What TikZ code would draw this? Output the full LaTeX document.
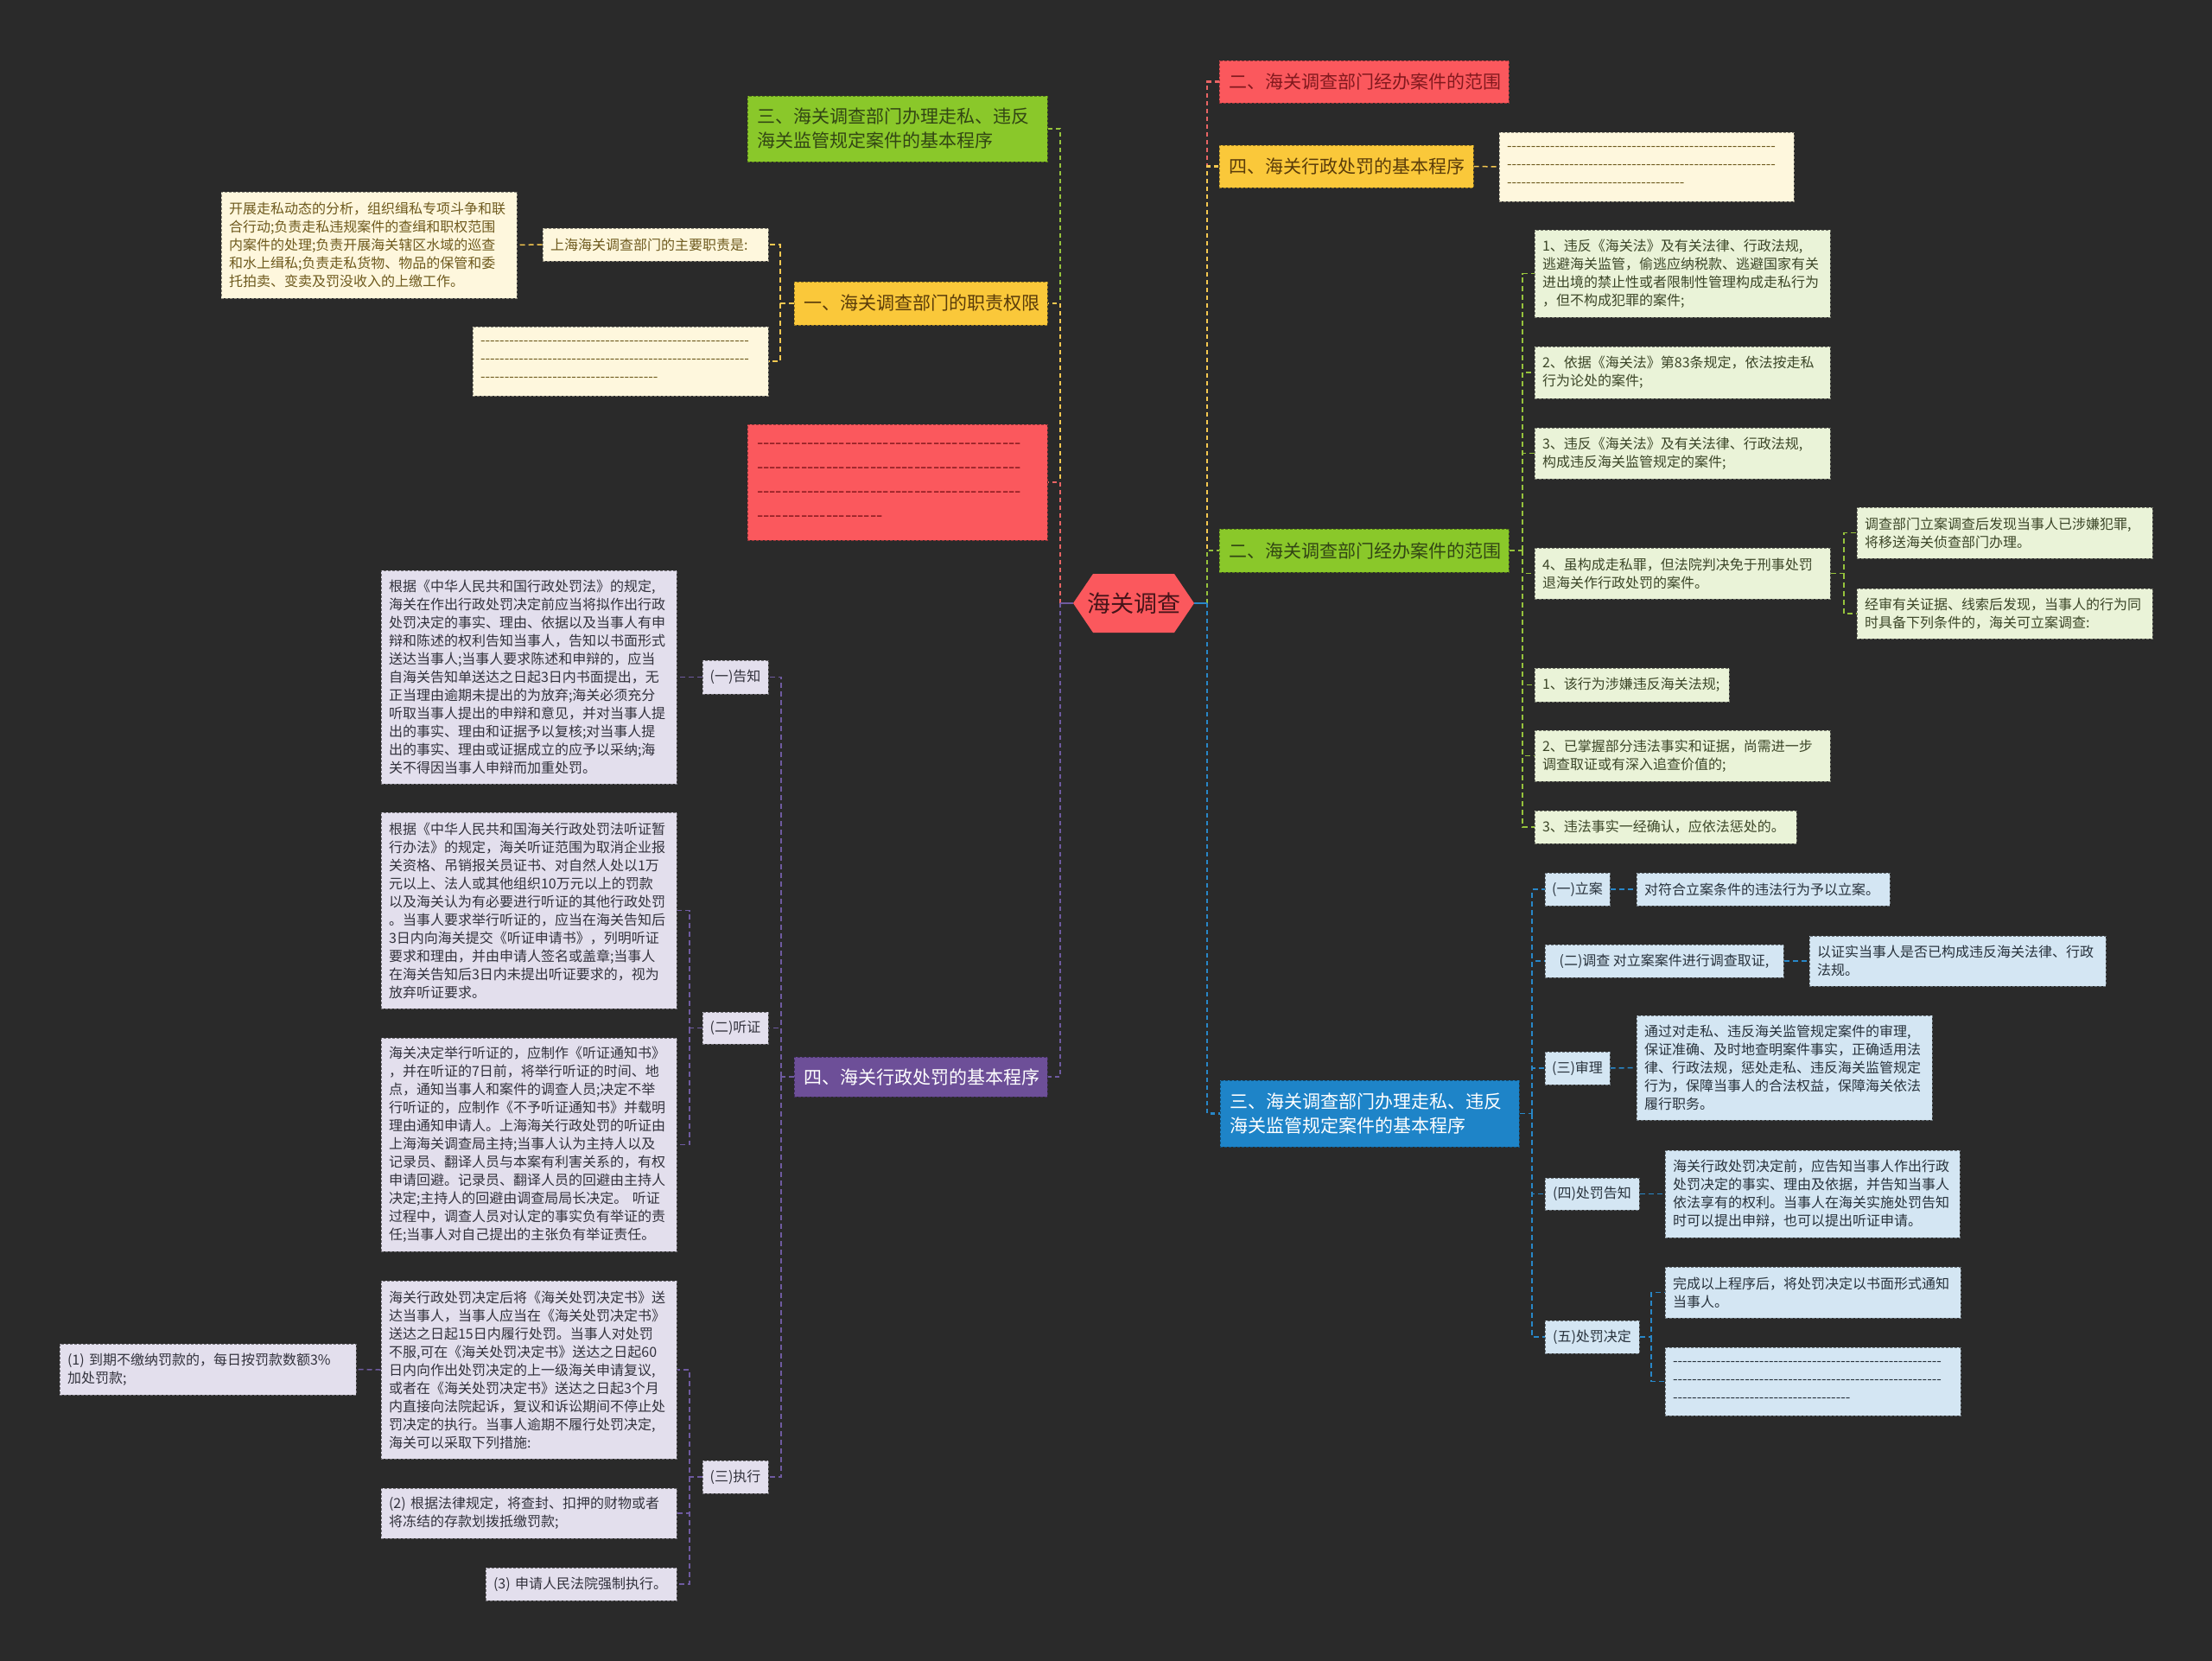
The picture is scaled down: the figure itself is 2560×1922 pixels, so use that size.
\documentclass[tikz,border=0pt]{standalone}
\usepackage{fontspec}
\setmainfont{Noto Sans CJK SC}
\usetikzlibrary{calc}
\definecolor{bg}{RGB}{42,42,42}
% main fills
\definecolor{hexF}{RGB}{251,88,93}
\definecolor{hexT}{RGB}{70,20,25}
\definecolor{gF}{RGB}{138,200,42}
\definecolor{gT}{RGB}{50,70,20}
\definecolor{yF}{RGB}{250,200,58}
\definecolor{yT}{RGB}{90,60,10}
\definecolor{rF}{RGB}{251,88,93}
\definecolor{rT}{RGB}{130,25,30}
\definecolor{pF}{RGB}{109,79,152}
\definecolor{bF}{RGB}{30,132,200}
% light fills
\definecolor{crF}{RGB}{254,247,221}
\definecolor{crT}{RGB}{110,90,30}
\definecolor{lgF}{RGB}{234,243,216}
\definecolor{lgT}{RGB}{60,70,40}
\definecolor{lvF}{RGB}{227,223,237}
\definecolor{lvT}{RGB}{50,50,60}
\definecolor{lbF}{RGB}{212,230,243}
\definecolor{lbT}{RGB}{40,50,60}
% connector colours
\definecolor{cRc}{RGB}{232,100,100}
\definecolor{cYc}{RGB}{245,200,80}
\definecolor{cGc}{RGB}{150,195,60}
\definecolor{cPc}{RGB}{110,90,160}
\definecolor{cBc}{RGB}{40,135,200}

\newcount\myhyc
\newcommand\hy[1]{\mbox{\myhyc=0 \loop\ifnum\myhyc<#1 -{}\advance\myhyc by 1 \repeat}}

\tikzset{
  bxbase/.style={rectangle, dashed, dash pattern=on 3pt off 2pt, line width=1pt, inner ysep=0pt, align=left},
  sz/.style 2 args={minimum width=#1pt, minimum height=#2pt, text width=#1pt-18pt, inner xsep=9pt},
  msz/.style 2 args={minimum width=#1pt, minimum height=#2pt, text width=#1pt-22pt, inner xsep=11pt},
  lsz/.style 2 args={minimum width=#1pt, minimum height=#2pt, inner xsep=4pt, align=center},
  small/.style={bxbase, font=\fontsize{16}{21}\selectfont},
  big/.style={bxbase, font=\fontsize{21}{28}\selectfont},
  cream/.style={small, fill=crF, draw=crF!55!black, text=crT},
  lgreen/.style={small, fill=lgF, draw=lgF!50!black, text=lgT},
  lav/.style={small, fill=lvF, draw=lvF!50!black, text=lvT},
  lblue/.style={small, fill=lbF, draw=lbF!50!black, text=lbT},
  mG/.style={big, fill=gF, draw=gF!60!black, text=gT},
  mY/.style={big, fill=yF, draw=yF!60!black, text=yT},
  mR/.style={big, fill=rF, draw=rF!60!black, text=rT},
  mP/.style={big, fill=pF, draw=pF!60!black, text=white},
  mB/.style={big, fill=bF, draw=bF!60!black, text=white},
  cn/.style={dashed, dash pattern=on 5pt off 4pt, line width=2.2pt},
  sn/.style={dashed, dash pattern=on 6pt off 4pt, line width=1.5pt},
  cR/.style={cn, draw=cRc}, cY/.style={cn, draw=cYc}, cG/.style={cn, draw=cGc},
  cP/.style={cn, draw=cPc}, cB/.style={cn, draw=cBc},
  sY/.style={sn, draw=cYc}, sG/.style={sn, draw=cGc},
  sP/.style={sn, draw=cPc}, sB/.style={sn, draw=cBc},
}

\begin{document}
\begin{tikzpicture}[x=1pt, y=-1pt]
\fill[bg] (0,0) rectangle (2560,1922);
\useasboundingbox (0,0) rectangle (2560,1922);

% ---------- centre ----------
\fill[hexF] (1242,698) -- (1265,664) -- (1359,664) -- (1382,698) -- (1359,732) -- (1265,732) -- cycle;
\node[font=\fontsize{27}{32}\selectfont, text=hexT, minimum width=140pt, minimum height=68pt, inner sep=0pt] (c) at (1312,698) {海关调查};
\coordinate (TL) at (1227,698);
\coordinate (TR) at (1397,698);

% ---------- left level 1 ----------
\node[mG, msz={347}{76}] (l1) at (1038.5,149) {三、海关调查部门办理走私、违反\\海关监管规定案件的基本程序};
\node[mY, msz={293}{50}] (l2) at (1065.5,351) {一、海关调查部门的职责权限};
\node[mR, msz={347}{134}] (l3) at (1038.5,558) {\hy{42}\\\hy{42}\\\hy{42}\\\hy{20}};
\node[mP, msz={293}{46}] (l4) at (1065.5,1246) {四、海关行政处罚的基本程序};

% ---------- right level 1 ----------
\node[mR, msz={335}{49}] (r1) at (1578.5,94.5) {二、海关调查部门经办案件的范围};
\node[mY, msz={294}{49}] (r2) at (1558,192.5) {四、海关行政处罚的基本程序};
\node[mG, msz={335}{50}] (r3) at (1578.5,637) {二、海关调查部门经办案件的范围};
\node[mB, msz={346}{77}] (r4) at (1585,1288.5) {三、海关调查部门办理走私、违反\\海关监管规定案件的基本程序};

% ---------- level 1 connectors ----------
\draw[cG] (TL) |- (l1.east);
\draw[cY] (TL) |- (l2.east);
\draw[cR] (TL) |- (l3.east);
\draw[cP] (TL) |- (l4.east);
\draw[cP, solid] (c.west) -- (TL);
\draw[cR] (TR) |- (r1.west);
\draw[cY] (TR) |- (r2.west);
\draw[cG] (TR) |- (r3.west);
\draw[cB] (TR) |- (r4.west);
\draw[cB, solid] (c.east) -- (TR);

% ---------- 一 subtree ----------
\node[cream, sz={261}{38}] (y1) at (758.5,283) {上海海关调查部门的主要职责是:};
\node[cream, sz={342}{123}] (y1a) at (427,283.5) {开展走私动态的分析，组织缉私专项斗争和联\\合行动;负责走私违规案件的查缉和职权范围\\内案件的处理;负责开展海关辖区水域的巡查\\和水上缉私;负责走私货物、物品的保管和委\\托拍卖、变卖及罚没收入的上缴工作。};
\node[cream, sz={342}{80}] (y2) at (718,418) {\hy{56}\\\hy{56}\\\hy{37}};
\coordinate (yv) at (903,351);
\draw[sY] (l2.west) -- (yv) |- (y1.east);
\draw[sY] (yv) |- (y2.east);
\draw[sY] (y1.west) -- (y1a.east);

% ---------- right 四 subtree ----------
\node[cream, sz={341}{80}] (r2a) at (1905.5,193) {\hy{56}\\\hy{56}\\\hy{37}};
\draw[sY] (r2.east) -- (r2a.west);

% ---------- right 二 (green) subtree ----------
\node[lgreen, sz={342}{101}] (g1) at (1947,316.5) {1、违反《海关法》及有关法律、行政法规,\\逃避海关监管，偷逃应纳税款、逃避国家有关\\进出境的禁止性或者限制性管理构成走私行为\\，但不构成犯罪的案件;};
\node[lgreen, sz={342}{60}] (g2) at (1947,431) {2、依据《海关法》第83条规定，依法按走私\\行为论处的案件;};
\node[lgreen, sz={342}{59}] (g3) at (1947,524.5) {3、违反《海关法》及有关法律、行政法规,\\构成违反海关监管规定的案件;};
\node[lgreen, sz={342}{59}] (g4) at (1947,663.5) {4、虽构成走私罪，但法院判决免于刑事处罚\\退海关作行政处罚的案件。};
\node[lgreen, sz={342}{59}] (g4a) at (2320,616.5) {调查部门立案调查后发现当事人已涉嫌犯罪,\\将移送海关侦查部门办理。};
\node[lgreen, sz={342}{58}] (g4b) at (2320,710) {经审有关证据、线索后发现，当事人的行为同\\时具备下列条件的，海关可立案调查:};
\node[lgreen, sz={225}{39}] (g5) at (1888.5,792.5) {1、该行为涉嫌违反海关法规;};
\node[lgreen, sz={342}{59}] (g6) at (1947,874.5) {2、已掌握部分违法事实和证据，尚需进一步\\调查取证或有深入追查价值的;};
\node[lgreen, sz={303}{38}] (g7) at (1927.5,957) {3、违法事实一经确认，应依法惩处的。};
\coordinate (gv) at (1762,637);
\draw[sG] (r3.east) -- (gv);
\foreach \n in {g1,g2,g3,g4,g5,g6,g7} \draw[sG] (gv) |- (\n.west);
\coordinate (g4v) at (2134,663.5);
\draw[sG] (g4.east) -- (g4v) |- (g4a.west);
\draw[sG] (g4v) |- (g4b.west);

% ---------- right 三 (blue) subtree ----------
\node[lblue, lsz={75}{38}] (b1) at (1825.5,1029) {(一)立案};
\node[lblue, sz={293}{38}] (b1c) at (2040.5,1029) {对符合立案条件的违法行为予以立案。};
\node[lblue, lsz={276}{38}] (b2) at (1926,1112) {(二)调查 对立案案件进行调查取证,};
\node[lblue, sz={343}{58}] (b2c) at (2265.5,1112) {以证实当事人是否已构成违反海关法律、行政\\法规。};
\node[lblue, lsz={75}{38}] (b3) at (1825.5,1236) {(三)审理};
\node[lblue, sz={342}{121}] (b3c) at (2065,1235.5) {通过对走私、违反海关监管规定案件的审理,\\保证准确、及时地查明案件事实，正确适用法\\律、行政法规，惩处走私、违反海关监管规定\\行为，保障当事人的合法权益，保障海关依法\\履行职务。};
\node[lblue, lsz={109}{37}] (b4) at (1842.5,1381.5) {(四)处罚告知};
\node[lblue, sz={341}{101}] (b4c) at (2097.5,1381.5) {海关行政处罚决定前，应告知当事人作出行政\\处罚决定的事实、理由及依据，并告知当事人\\依法享有的权利。当事人在海关实施处罚告知\\时可以提出申辩，也可以提出听证申请。};
\node[lblue, lsz={109}{38}] (b5) at (1842.5,1547) {(五)处罚决定};
\node[lblue, sz={342}{59}] (b5a) at (2098,1495.5) {完成以上程序后，将处罚决定以书面形式通知\\当事人。};
\node[lblue, sz={342}{79}] (b5b) at (2098,1598.5) {\hy{56}\\\hy{56}\\\hy{37}};
\coordinate (bv) at (1773,1288.5);
\draw[sB] (r4.east) -- (bv);
\foreach \n in {b1,b2,b3,b4,b5} \draw[sB] (bv) |- (\n.west);
\draw[sB] (b1.east) -- (b1c.west);
\draw[sB] (b2.east) -- (b2c.west);
\draw[sB] (b3.east) -- (b3c.west);
\draw[sB] (b4.east) -- (b4c.west);
\coordinate (b5v) at (1911,1547);
\draw[sB] (b5.east) -- (b5v) |- (b5a.west);
\draw[sB] (b5v) |- (b5b.west);

% ---------- left 四 (purple) subtree ----------
\node[lav, lsz={76}{39}] (p1) at (851,783.5) {(一)告知};
\node[lav, sz={342}{247}] (p1c) at (612,783.5) {根据《中华人民共和国行政处罚法》的规定,\\海关在作出行政处罚决定前应当将拟作出行政\\处罚决定的事实、理由、依据以及当事人有申\\辩和陈述的权利告知当事人，告知以书面形式\\送达当事人;当事人要求陈述和申辩的，应当\\自海关告知单送达之日起3日内书面提出，无\\正当理由逾期未提出的为放弃;海关必须充分\\听取当事人提出的申辩和意见，并对当事人提\\出的事实、理由和证据予以复核;对当事人提\\出的事实、理由或证据成立的应予以采纳;海\\关不得因当事人申辩而加重处罚。};
\node[lav, lsz={76}{37}] (p2) at (851,1189.5) {(二)听证};
\node[lav, sz={342}{227}] (p2a) at (612,1053.5) {根据《中华人民共和国海关行政处罚法听证暂\\行办法》的规定，海关听证范围为取消企业报\\关资格、吊销报关员证书、对自然人处以1万\\元以上、法人或其他组织10万元以上的罚款\\以及海关认为有必要进行听证的其他行政处罚\\。当事人要求举行听证的，应当在海关告知后\\3日内向海关提交《听证申请书》，列明听证\\要求和理由，并由申请人签名或盖章;当事人\\在海关告知后3日内未提出听证要求的，视为\\放弃听证要求。};
\node[lav, sz={342}{247}] (p2b) at (612,1324.5) {海关决定举行听证的，应制作《听证通知书》\\，并在听证的7日前，将举行听证的时间、地\\点，通知当事人和案件的调查人员;决定不举\\行听证的，应制作《不予听证通知书》并载明\\理由通知申请人。上海海关行政处罚的听证由\\上海海关调查局主持;当事人认为主持人以及\\记录员、翻译人员与本案有利害关系的，有权\\申请回避。记录员、翻译人员的回避由主持人\\决定;主持人的回避由调查局局长决定。 听证\\过程中，调查人员对认定的事实负有举证的责\\任;当事人对自己提出的主张负有举证责任。};
\node[lav, lsz={76}{38}] (p3) at (851,1709) {(三)执行};
\node[lav, sz={342}{206}] (p3a) at (612,1585) {海关行政处罚决定后将《海关处罚决定书》送\\达当事人，当事人应当在《海关处罚决定书》\\送达之日起15日内履行处罚。当事人对处罚\\不服,可在《海关处罚决定书》送达之日起60\\日内向作出处罚决定的上一级海关申请复议,\\或者在《海关处罚决定书》送达之日起3个月\\内直接向法院起诉，复议和诉讼期间不停止处\\罚决定的执行。当事人逾期不履行处罚决定,\\海关可以采取下列措施:};
\node[lav, sz={343}{59}] (p3a1) at (240.5,1584.5) {(1) 到期不缴纳罚款的，每日按罚款数额3\%\\加处罚款;};
\node[lav, sz={342}{58}] (p3b) at (612,1751) {(2) 根据法律规定，将查封、扣押的财物或者\\将冻结的存款划拨抵缴罚款;};
\node[lav, sz={221}{38}] (p3c) at (672.5,1833) {(3) 申请人民法院强制执行。};
\coordinate (pv) at (904,1246);
\draw[sP] (l4.west) -- (pv);
\foreach \n in {p1,p2,p3} \draw[sP] (pv) |- (\n.east);
\draw[sP] (p1.west) -- (p1c.east);
\coordinate (p2v) at (798,1189.5);
\draw[sP] (p2.west) -- (p2v) |- (p2a.east);
\draw[sP] (p2v) |- (p2b.east);
\coordinate (p3v) at (798,1709);
\draw[sP] (p3.west) -- (p3v) |- (p3a.east);
\draw[sP] (p3v) |- (p3b.east);
\draw[sP] (p3v) |- (p3c.east);
\draw[sP] (p3a.west) -- (p3a1.east);
\end{tikzpicture}
\end{document}
